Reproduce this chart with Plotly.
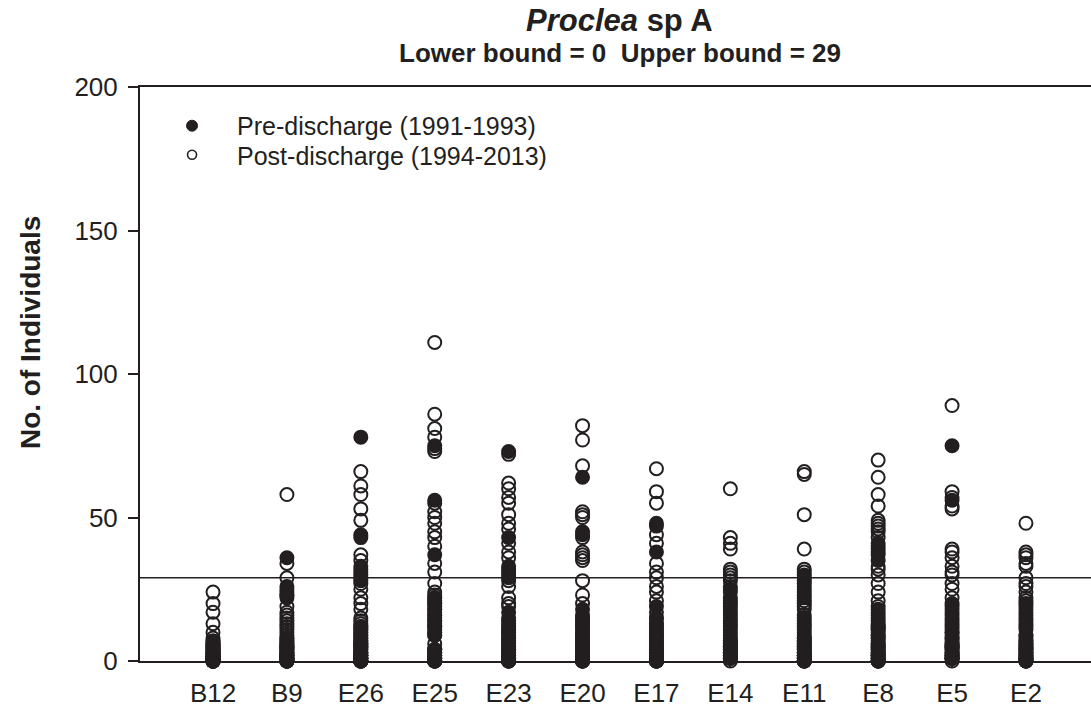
import plotly.graph_objects as go

stations = ["B12", "B9", "E26", "E25", "E23", "E20", "E17", "E14", "E11", "E8", "E5", "E2"]

pre_B12 = [2, 0, 5, 1, 3, 0, 4, 1, 6, 2, 0, 3, 1, 7, 0]
post_B12 = [24, 20, 17, 13, 10, 3, 0, 1, 5, 2, 0, 7, 4, 1, 0, 6, 2, 3, 0, 1, 8, 0, 2, 4, 1, 0, 5, 3, 0, 1, 2, 6, 0, 1, 4, 0, 2, 3, 0, 1]

pre_B9 = [36, 24, 22, 26, 3, 0, 5, 1, 7, 2, 0, 4, 8, 1, 23]
post_B9 = [58, 34, 29, 25, 23, 19, 17, 15, 13, 11, 9, 16, 14, 12, 10, 2, 0, 5, 1, 7, 3, 0, 6, 4, 1, 8, 0, 2, 3, 1, 0, 5, 2, 0, 4, 1, 6, 0, 3, 2]

pre_E26 = [78, 44, 43, 33, 31, 30, 28, 12, 3, 0, 8, 1, 5, 10, 2, 6, 0]
post_E26 = [66, 61, 58, 53, 49, 37, 35, 32, 29, 27, 25, 22, 20, 18, 15, 14, 12, 10, 13, 11, 9, 3, 0, 7, 1, 5, 2, 8, 0, 4, 6, 1, 0, 3, 9, 2, 0, 1, 5, 4, 0, 2, 7, 1, 3, 0, 6, 1, 11, 2]

pre_E25 = [75, 56, 37, 20, 16, 12, 9, 3, 0, 22, 14, 1, 18, 10, 4]
post_E25 = [111, 86, 81, 78, 74, 73, 55, 52, 50, 48, 45, 43, 40, 34, 31, 27, 24, 21, 23, 19, 17, 22, 15, 20, 13, 18, 11, 16, 9, 14, 12, 10, 3, 0, 1, 4, 2, 0, 1, 3, 0, 2, 1, 0, 4, 2, 0, 6]

pre_E23 = [73, 43, 33, 31, 29, 17, 15, 13, 10, 4, 0, 7, 2, 11, 1]
post_E23 = [72, 62, 60, 57, 55, 51, 48, 46, 41, 38, 36, 32, 30, 28, 26, 22, 20, 19, 14, 12, 9, 11, 5, 0, 8, 2, 6, 1, 10, 3, 0, 7, 4, 1, 0, 2, 5, 3, 0, 1, 8, 2, 4]

pre_E20 = [64, 45, 44, 18, 15, 13, 10, 6, 3, 0, 8, 1, 12]
post_E20 = [82, 77, 68, 52, 51, 50, 43, 38, 37, 36, 35, 28, 23, 20, 16, 14, 12, 15, 11, 13, 9, 10, 7, 0, 3, 5, 1, 8, 2, 6, 0, 4, 1, 9, 3, 0, 2, 7, 1, 5, 0, 4, 2]

pre_E17 = [48, 47, 38, 19, 15, 11, 8, 4, 0, 13, 2, 6, 1]
post_E17 = [67, 59, 55, 44, 41, 34, 31, 29, 26, 24, 21, 17, 15, 13, 12, 10, 9, 7, 0, 3, 1, 8, 4, 0, 2, 11, 6, 1, 0, 3, 9, 2, 5, 0, 1, 4, 2, 0, 3, 6]

pre_E14 = [25, 24, 22, 21, 20, 19, 10, 9, 7, 5, 3, 1, 16, 12]
post_E14 = [60, 43, 41, 39, 32, 31, 30, 29, 28, 26, 18, 17, 14, 13, 11, 15, 6, 4, 2, 1, 3, 5, 2, 7, 1, 4, 3, 6, 2, 1, 5, 3, 8, 0]

pre_E11 = [30, 27, 26, 25, 24, 23, 22, 10, 8, 5, 2, 0, 15, 12]
post_E11 = [66, 65, 51, 39, 32, 31, 29, 28, 21, 20, 19, 18, 16, 14, 13, 11, 9, 7, 0, 3, 1, 6, 4, 2, 0, 8, 5, 1, 3, 0, 2, 6, 1, 4, 0, 7, 3, 2]

pre_E8 = [41, 40, 39, 38, 37, 35, 18, 16, 14, 11, 8, 5, 2, 0, 12]
post_E8 = [70, 64, 58, 54, 49, 48, 47, 46, 45, 43, 33, 32, 30, 27, 24, 21, 19, 17, 15, 13, 10, 12, 9, 0, 6, 3, 1, 7, 4, 2, 0, 8, 5, 1, 11, 3, 0, 2, 6, 1, 4, 0, 9, 2, 3]

pre_E5 = [75, 56, 20, 19, 14, 11, 8, 5, 2, 16, 1, 10, 4]
post_E5 = [89, 59, 57, 54, 53, 39, 38, 36, 33, 31, 30, 27, 25, 22, 18, 15, 13, 12, 9, 17, 7, 3, 1, 6, 10, 2, 5, 1, 3, 8, 2, 4, 1, 6, 3, 2, 5, 1, 0]

pre_E2 = [20, 18, 17, 16, 15, 14, 13, 7, 4, 1, 0, 9]
post_E2 = [48, 38, 37, 36, 34, 33, 29, 27, 26, 24, 22, 21, 19, 12, 8, 5, 0, 3, 1, 6, 2, 0, 7, 4, 1, 3, 0, 9, 5, 2, 1, 0, 6, 3, 2, 4, 1, 11]

pre_lists = [pre_B12, pre_B9, pre_E26, pre_E25, pre_E23, pre_E20, pre_E17, pre_E14, pre_E11, pre_E8, pre_E5, pre_E2]
post_lists = [post_B12, post_B9, post_E26, post_E25, post_E23, post_E20, post_E17, post_E14, post_E11, post_E8, post_E5, post_E2]

lower_bound = 0
upper_bound = 29
y_ticks = [0, 50, 100, 150, 200]

INK = "#231f20"
FONT = "Liberation Sans, Arial, Helvetica, sans-serif"

pre_x, pre_y, post_x, post_y = [], [], [], []
for st, pv, qv in zip(stations, pre_lists, post_lists):
    pre_x += [st] * len(pv)
    pre_y += pv
    post_x += [st] * len(qv)
    post_y += qv

fig = go.Figure()
fig.add_trace(go.Scatter(
    x=pre_x, y=pre_y, mode="markers", showlegend=False, cliponaxis=False,
    marker=dict(symbol="circle", size=13, color=INK, line=dict(color=INK, width=2)),
))
fig.add_trace(go.Scatter(
    x=post_x, y=post_y, mode="markers", showlegend=False, cliponaxis=False,
    marker=dict(symbol="circle", size=13, color="rgba(0,0,0,0)", line=dict(color=INK, width=2)),
))
# legend keys
fig.add_trace(go.Scatter(
    x=[None], y=[None], mode="markers", name="Pre-discharge (1991-1993)", legend="legend",
    marker=dict(symbol="circle", size=11, color=INK, line=dict(color=INK, width=1)),
))
fig.add_trace(go.Scatter(
    x=[None], y=[None], mode="markers", name="Post-discharge (1994-2013)", legend="legend2",
    marker=dict(symbol="circle", size=9, color="white", line=dict(color=INK, width=1.6)),
))

fig.add_shape(type="line", xref="paper", yref="y", x0=0, x1=1, y0=upper_bound, y1=upper_bound,
              line=dict(color=INK, width=1.5))

legend_common = dict(xanchor="left", yanchor="middle", bgcolor="rgba(0,0,0,0)", itemwidth=80,
                     font=dict(size=25, family=FONT, color=INK), borderwidth=0)

fig.update_layout(
    width=1091, height=711,
    margin=dict(l=140, r=0, t=87, b=50),
    paper_bgcolor="white", plot_bgcolor="white",
    font=dict(family=FONT, color=INK, size=26),
    showlegend=True,
    legend=dict(x=0.0074, y=0.9321, **legend_common),
    legend2=dict(x=0.0074, y=0.8815, **legend_common),
    xaxis=dict(
        type="category", categoryorder="array", categoryarray=stations,
        range=[-0.988, 11.88], showline=True, linecolor=INK, linewidth=2, mirror=True,
        ticks="outside", ticklen=5, tickwidth=1.5, tickcolor=INK, showgrid=False, zeroline=False,
        tickfont=dict(size=26, family=FONT, color=INK), ticklabelstandoff=3,
    ),
    yaxis=dict(
        range=[0, 200], tickvals=y_ticks, showline=True, linecolor=INK, linewidth=2, mirror=False,
        ticks="outside", ticklen=10, tickwidth=1.5, tickcolor=INK, showgrid=False, zeroline=False,
        tickfont=dict(size=26, family=FONT, color=INK), ticklabelstandoff=5,
    ),
    annotations=[
        dict(text="<b><i>Proclea</i> sp A</b>", xref="paper", yref="paper", x=0.5047, y=1.0,
             yshift=67, xanchor="center", yanchor="middle", showarrow=False,
             font=dict(size=31, family=FONT, color=INK)),
        dict(text="<b>Lower bound = %d  Upper bound = %d</b>" % (lower_bound, upper_bound),
             xref="paper", yref="paper", x=0.5047, y=1.0, yshift=34, xanchor="center",
             yanchor="middle", showarrow=False, font=dict(size=26, family=FONT, color=INK)),
        dict(text="<b>No. of Individuals</b>", xref="paper", yref="paper", x=-0.1157, y=0.573,
             xanchor="center", yanchor="middle", textangle=-90, showarrow=False,
             font=dict(size=28, family=FONT, color=INK)),
    ],
)

fig.write_html("out.html", config={"displayModeBar": False},
               post_script="document.body.style.margin='0';document.body.style.overflow='hidden';")
